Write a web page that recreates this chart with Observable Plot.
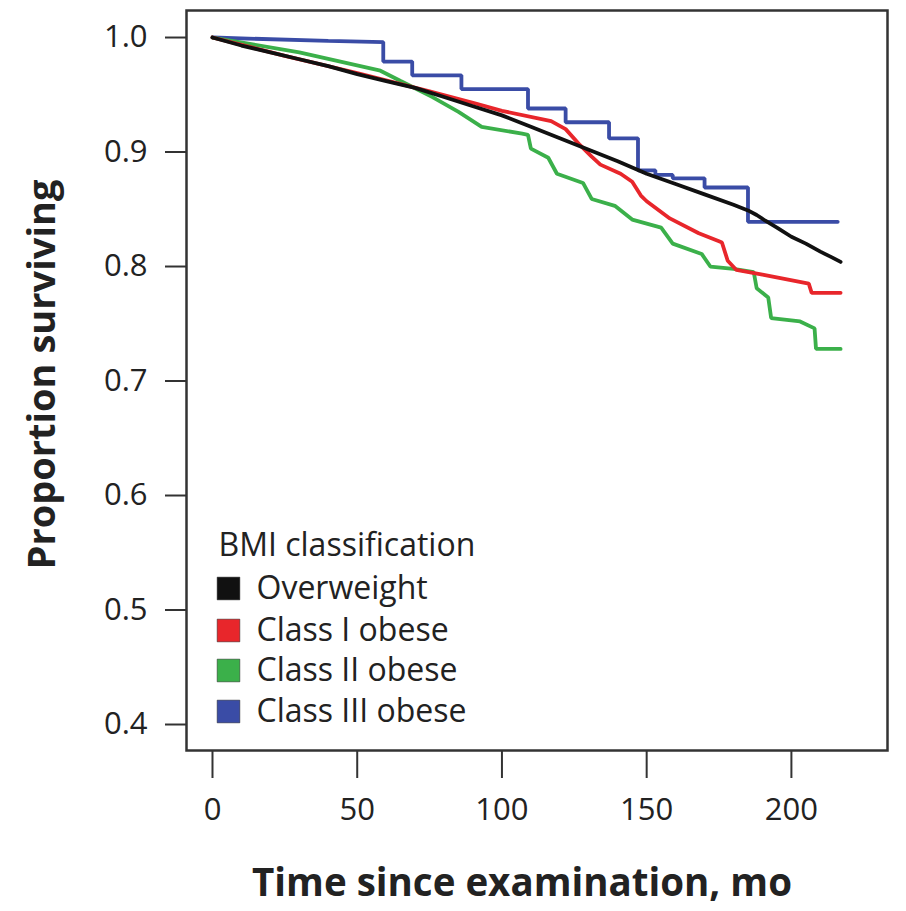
<!DOCTYPE html>
<html>
<head>
<meta charset="utf-8">
<script src="https://cdn.jsdelivr.net/npm/d3@7"></script>
<script src="https://cdn.jsdelivr.net/npm/@observablehq/plot@0.6"></script>
<style>
  html, body { margin: 0; padding: 0; background: #ffffff; }
</style>
</head>
<body>
<div id="chart"></div>
<script>
// ---- data (repeated times mark the vertical drops of a step) ----
const series = ["Overweight", "Class I obese", "Class II obese", "Class III obese"];
const colors = ["#111111", "#e8262b", "#3bb04a", "#3a4ca6"];

const overweightT = [0,10,20,30,40,50,60,70,80,90,100,110,120,130,140,150,160,170,180,185,188,191,195,200,205,210,214,217];
const overweightS = [1.000,0.993,0.987,0.981,0.975,0.968,0.962,0.956,0.948,0.940,0.932,0.922,0.912,0.902,0.892,0.881,0.872,0.863,0.854,0.849,0.845,0.840,0.834,0.826,0.820,0.813,0.808,0.804];

const class1T = [0,25,50,75,90,100,117,122,127,131,134,141,145,148,150,158,168,175,176,178,181,190,206,207,217];
const class1S = [1.000,0.984,0.969,0.953,0.943,0.936,0.927,0.920,0.906,0.896,0.889,0.881,0.874,0.862,0.857,0.842,0.829,0.822,0.821,0.805,0.797,0.793,0.785,0.777,0.777];

const class2T = [0,30,58,65,76,85,93,107,109,110,116,119,128,131,139,145,155,159,169,172,180,187,188,192,193,203,208,208.5,217];
const class2S = [1.000,0.987,0.971,0.962,0.948,0.935,0.922,0.916,0.915,0.903,0.895,0.881,0.873,0.859,0.853,0.841,0.834,0.820,0.811,0.800,0.798,0.795,0.781,0.773,0.755,0.752,0.746,0.728,0.728];

const class3T = [0,40,59,59,69,69,86,86,109,109,122,122,137,137,147,147,153,153,159,159,170,170,185,185,216];
const class3S = [1.000,0.997,0.996,0.979,0.979,0.967,0.967,0.955,0.955,0.938,0.938,0.926,0.926,0.912,0.912,0.884,0.884,0.880,0.880,0.877,0.877,0.869,0.869,0.839,0.839];

const xTicks = [0, 50, 100, 150, 200];
const yTicks = [0.4, 0.5, 0.6, 0.7, 0.8, 0.9, 1.0];
const xTitle = "Time since examination, mo";
const yTitle = "Proportion surviving";
const legendTitle = "BMI classification";

// ---- build tidy table (draw order: III, II, I, Overweight) ----
const seriesData = [
  [series[3], class3T, class3S],
  [series[2], class2T, class2S],
  [series[1], class1T, class1S],
  [series[0], overweightT, overweightS]
];
const rows = seriesData.flatMap(([g, ts, ss]) => ts.map((t, i) => ({group: g, t, s: ss[i]})));

const FONT = "'Open Sans', 'Noto Sans', sans-serif";
const rowDy = [-162, -120, -80, -39];

const legendMarks = series.flatMap((name, i) => [
  Plot.dot([name], {frameAnchor: "bottom-left", dx: 42, dy: rowDy[i], symbol: "square", r: 12.8, fill: colors[i], stroke: "#222", strokeWidth: 0.5}),
  Plot.text([name], {frameAnchor: "bottom-left", dx: 70, dy: rowDy[i], text: d => d, textAnchor: "start", lineAnchor: "middle", fontSize: 32, fill: "#222"})
]);

const chart = Plot.plot({
  width: 906,
  height: 911,
  marginTop: 10,
  marginBottom: 161,
  marginLeft: 186,
  marginRight: 19,
  style: {fontFamily: FONT, fontSize: "31px", color: "#222", background: "#ffffff"},
  x: {domain: [-8.98, 233.2]},
  y: {domain: [0.3773, 1.0236]},
  color: {domain: series, range: colors},
  marks: [
    Plot.line(rows, {x: "t", y: "s", z: "group", stroke: "group", curve: "linear", strokeWidth: 3.8, strokeLinejoin: "miter"}),
    Plot.frame({stroke: "#333", strokeWidth: 2.5}),
    Plot.axisY({ticks: yTicks, tickFormat: d3.format(".1f"), tickSize: 21, tickPadding: 18, label: null, stroke: "#333", strokeWidth: 2}),
    Plot.axisX({ticks: xTicks, tickFormat: d3.format("d"), tickSize: 28, tickPadding: 19, label: null, stroke: "#333", strokeWidth: 2}),
    Plot.text([yTitle], {frameAnchor: "left", dx: -144, dy: -6, rotate: -90, text: d => d, textAnchor: "middle", lineAnchor: "middle", fontSize: 38, fontWeight: "bold", fill: "#222"}),
    Plot.text([xTitle], {frameAnchor: "bottom", dx: -15, dy: 133, text: d => d, textAnchor: "middle", lineAnchor: "middle", fontSize: 38.5, fontWeight: "bold", fill: "#222"}),
    Plot.text([legendTitle], {frameAnchor: "bottom-left", dx: 32, dy: -205, text: d => d, textAnchor: "start", lineAnchor: "middle", fontSize: 32, fill: "#222"}),
    ...legendMarks
  ]
});
document.getElementById("chart").appendChild(chart);
</script>
</body>
</html>
